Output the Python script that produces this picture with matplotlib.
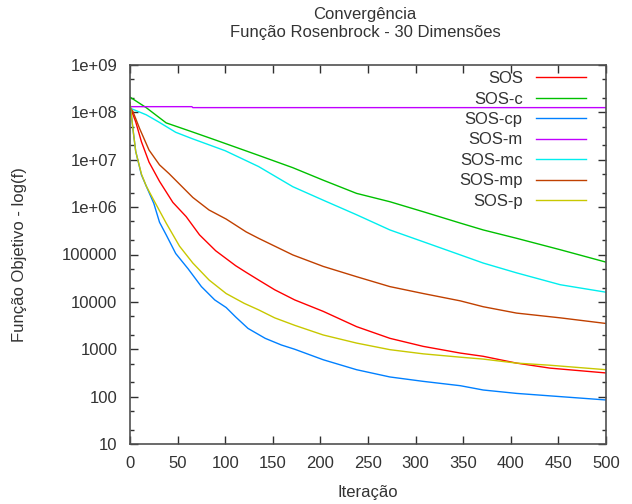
import matplotlib
matplotlib.use("Agg")
import matplotlib.pyplot as plt
from matplotlib.ticker import FixedLocator, NullFormatter

plt.rcParams['font.family'] = ['Liberation Sans', 'DejaVu Sans']

# valores (iteracao, f)
sos_it = [0, 6, 12, 20, 31, 45, 59, 73, 90, 111, 122, 135, 152, 173, 203, 238, 273, 308, 347, 371,
          406, 441, 500]
sos_f = [1.32e8, 6.3e7, 2.4e7, 8.9e6, 3.5e6, 1.26e6, 6.3e5, 2.6e5, 1.2e5, 5.8e4, 4.2e4, 2.9e4,
         1.8e4, 1.1e4, 6.3e3, 3.0e3, 1.7e3, 1.15e3, 830, 710, 510, 400, 316]

sosc_it = [0, 17, 38, 65, 90, 134, 171, 203, 238, 273, 308, 347, 371, 406, 452, 500]
sosc_f = [2.1e8, 1.26e8, 6.0e7, 3.9e7, 2.6e7, 1.26e7, 6.8e6, 3.7e6, 1.95e6, 1.3e6, 8.0e5,
          4.6e5, 3.3e5, 2.2e5, 1.26e5, 6.9e4]

soscp_it = [0, 3, 6, 12, 17, 25, 31, 38, 48, 61, 75, 89, 101, 111, 124, 142, 159, 173, 203, 238,
            273, 308, 347, 371, 406, 452, 500]
soscp_f = [1.6e8, 4.6e7, 1.5e7, 4.8e6, 2.8e6, 1.2e6, 4.8e5, 2.6e5, 1.05e5, 5.0e4, 2.1e4, 1.1e4,
           7.6e3, 4.8e3, 2.75e3, 1.7e3, 1.23e3, 1.0e3, 600, 370, 260, 210, 170, 138, 117, 100, 85]

sosm_it = [0, 65, 66, 500]
sosm_f = [1.32e8, 1.32e8, 1.26e8, 1.26e8]

sosmc_it = [0, 17, 30, 48, 65, 100, 135, 171, 203, 238, 273, 308, 347, 371, 406, 452, 500]
sosmc_f = [1.23e8, 8.9e7, 6.3e7, 3.8e7, 2.8e7, 1.55e7, 7.2e6, 2.7e6, 1.4e6, 6.9e5, 3.3e5, 1.86e5,
           9.8e4, 6.6e4, 4.1e4, 2.3e4, 1.6e4]

sosmp_it = [0, 3, 10, 20, 31, 41, 66, 83, 101, 122, 135, 171, 203, 238, 273, 308, 347, 371, 406,
            452, 500]
sosmp_f = [1.26e8, 1.05e8, 4.6e7, 1.6e7, 7.8e6, 5.1e6, 1.6e6, 8.7e5, 5.6e5, 3.0e5, 2.2e5, 9.8e4,
           5.6e4, 3.4e4, 2.1e4, 1.5e4, 1.05e4, 7.9e3, 5.8e3, 4.6e3, 3.5e3]

sosp_it = [0, 3, 6, 12, 17, 25, 38, 52, 66, 83, 101, 120, 135, 152, 173, 203, 238, 273, 308, 347,
           371, 406, 441, 500]
sosp_f = [1.6e8, 4.6e7, 1.5e7, 5.0e6, 2.8e6, 1.4e6, 4.6e5, 1.5e5, 6.6e4, 2.9e4, 1.5e4, 9.3e3,
          6.8e3, 4.6e3, 3.2e3, 2.0e3, 1.35e3, 980, 800, 680, 620, 510, 460, 370]

series = [
    ("SOS", sos_it, sos_f, "#ff0000"),
    ("SOS-c", sosc_it, sosc_f, "#00c000"),
    ("SOS-cp", soscp_it, soscp_f, "#0080ff"),
    ("SOS-m", sosm_it, sosm_f, "#c000ff"),
    ("SOS-mc", sosmc_it, sosmc_f, "#00eeee"),
    ("SOS-mp", sosmp_it, sosmp_f, "#c04000"),
    ("SOS-p", sosp_it, sosp_f, "#c8c800"),
]

ytick_vals = [10, 100, 1000, 1e4, 1e5, 1e6, 1e7, 1e8, 1e9]
ytick_labels = ["10", "100", "1000", "10000", "100000", "1e+06", "1e+07", "1e+08", "1e+09"]
xtick_vals = list(range(0, 501, 50))

txt = "#333333"
fs = 12
fig = plt.figure(figsize=(6.32, 5.04), dpi=100)
ax = fig.add_axes([130 / 632, 1 - 444 / 504, 476 / 632, 379 / 504])

for name, it, f, c in series:
    ax.plot(it, f, color=c, lw=1.0, label=name)

ax.set_yscale("log")
ax.set_xlim(0, 500)
ax.set_ylim(10, 1e9)
ax.set_xticks(xtick_vals)
ax.set_yticks(ytick_vals)
ax.set_yticklabels(ytick_labels)
minors = []
for d in ytick_vals[:-1]:
    minors += [2 * d, 5 * d]
ax.yaxis.set_minor_locator(FixedLocator(minors))
ax.yaxis.set_minor_formatter(NullFormatter())
ax.tick_params(which="both", direction="in", top=True, right=True, colors="#303030",
               labelcolor=txt, labelsize=fs)
ax.tick_params(which="major", length=6, width=1, pad=9)
ax.tick_params(which="minor", length=3, width=1)
for s in ax.spines.values():
    s.set_color("#505050")
    s.set_linewidth(1.2)

ax.set_xlabel("Iteração", fontsize=fs, color=txt, labelpad=10)
ax.set_ylabel("Função Objetivo - log(f)", fontsize=fs, color=txt, labelpad=25)
fig.text(365 / 632, 1 - 14 / 504, "Convergência", ha="center", va="center", fontsize=fs, color=txt)
fig.text(365 / 632, 1 - 33 / 504, "Função Rosenbrock - 30 Dimensões", ha="center", va="center",
         fontsize=fs, color=txt)

leg = ax.legend(loc="upper right", bbox_to_anchor=(1 - 20 / 476, 1 - 6 / 379), frameon=False,
                markerfirst=False, handlelength=3.0, handletextpad=0.8, labelspacing=0.33,
                borderpad=0, borderaxespad=0, fontsize=fs)
for t in leg.get_texts():
    t.set_color(txt)

fig.savefig("out.png", dpi=100)
